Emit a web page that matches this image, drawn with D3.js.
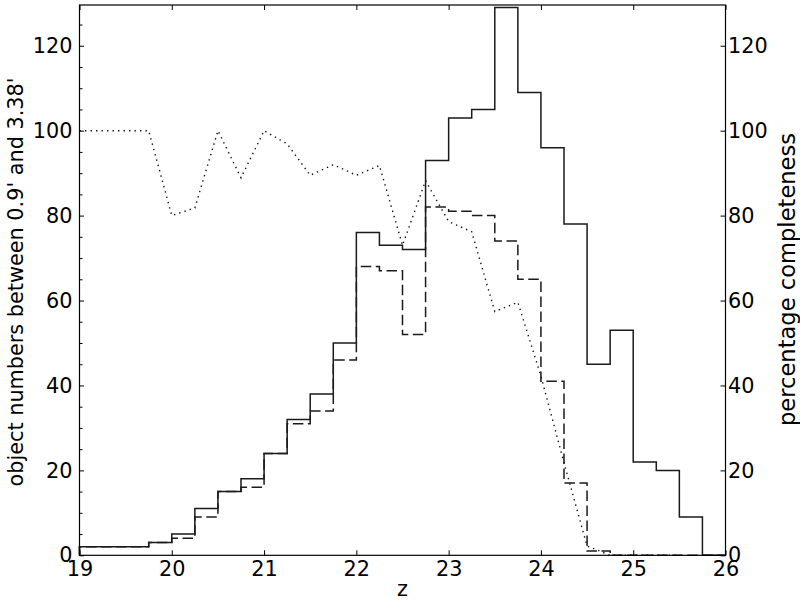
<!DOCTYPE html>
<html>
<head>
<meta charset="utf-8">
<script src="https://cdn.jsdelivr.net/npm/d3@7"></script>
<style>
  html, body { margin: 0; padding: 0; background: #fff; }
  svg { display: block; }
  text { font-family: "DejaVu Sans", sans-serif; fill: #000; }
</style>
</head>
<body>
<svg id="chart" width="800" height="600"></svg>
<script>
// bin left edges (width 0.25)
const binStarts = [19, 19.25, 19.5, 19.75, 20, 20.25, 20.5, 20.75, 21, 21.25, 21.5, 21.75,
  22, 22.25, 22.5, 22.75, 23, 23.25, 23.5, 23.75, 24, 24.25, 24.5, 24.75, 25, 25.25, 25.5, 25.75];
const binEnd = 26;
// all objects (solid)
const totalCounts = [2, 2, 2, 3, 5, 11, 15, 18, 24, 32, 38, 50,
  76, 73, 72, 93, 103, 105, 129, 109, 96, 78, 45, 53, 22, 20, 9, 0];
// recovered objects (dashed)
const recoveredCounts = [2, 2, 2, 3, 4, 9, 15, 16, 24, 31, 34, 46,
  68, 67, 52, 82, 81, 80, 74, 65, 41, 17, 1, 0, 0, 0, 0, 0];
// percentage completeness (dotted), plotted at bin left edges
const completenessZ = [19, 19.25, 19.5, 19.75, 20, 20.25, 20.5, 20.75, 21, 21.25, 21.5, 21.75,
  22, 22.25, 22.5, 22.75, 23, 23.25, 23.5, 23.75, 24, 24.25, 24.5, 24.75, 25, 25.25, 25.5];
const completeness = [100, 100, 100, 100, 80, 81.8, 100, 88.9, 100, 96.9, 89.5, 92,
  89.5, 91.8, 73, 88.2, 78.6, 76.2, 57.4, 59.6, 42.2, 21.8, 2.2, 0, 0, 0, 0];

const xTicks = [19, 20, 21, 22, 23, 24, 25, 26];
const yTicks = [0, 20, 40, 60, 80, 100, 120];
const yMinorTicks = [5, 10, 15, 25, 30, 35, 45, 50, 55, 65, 70, 75, 85, 90, 95, 105, 110, 115, 125];
const xDomain = [19, 26];
const yDomain = [0, 129.6];

const labels = {
  x: "z",
  yLeft: "object numbers between 0.9' and 3.38'",
  yRight: "percentage completeness"
};

const svg = d3.select("#chart");
const L = 79.5, R = 725.5, T = 5, B = 555.3;
const x = d3.scaleLinear().domain(xDomain).range([L, R]);
const y = d3.scaleLinear().domain(yDomain).range([B, T]);
const y2 = d3.scaleLinear().domain(yDomain).range([B, T]);

const FS = "20.8px";

function stepPoints(counts) {
  const pts = [[binStarts[0], 0]];
  counts.forEach((v, i) => {
    const x0 = binStarts[i];
    const x1 = i + 1 < binStarts.length ? binStarts[i + 1] : binEnd;
    pts.push([x0, v]);
    pts.push([x1, v]);
  });
  pts.push([binEnd, 0]);
  return pts;
}
const line = d3.line().x(d => x(d[0])).y(d => y(d[1]));

const plot = svg.append("g");
plot.append("path")
  .attr("d", line(stepPoints(totalCounts)))
  .attr("fill", "none").attr("stroke", "#1a1a1a").attr("stroke-width", 1.5);
plot.append("path")
  .attr("d", line(stepPoints(recoveredCounts)))
  .attr("fill", "none").attr("stroke", "#1a1a1a").attr("stroke-width", 1.5)
  .attr("stroke-dasharray", "10.5,4.5");
const line2 = d3.line().x(d => x(d[0])).y(d => y2(d[1]));
plot.append("path")
  .attr("d", line2(completenessZ.map((z, i) => [z, completeness[i]])))
  .attr("fill", "none").attr("stroke", "#111").attr("stroke-width", 1.4)
  .attr("stroke-dasharray", "1.4,4.1");

// axes
function styleAxis(g) {
  g.select(".domain").remove();
  g.selectAll(".tick line").attr("stroke", "#000").attr("stroke-width", 1);
  g.selectAll("text").style("font-size", FS).style("font-family", "DejaVu Sans, sans-serif").attr("fill", "#000");
}
svg.append("g").attr("transform", `translate(0,${B})`)
  .call(d3.axisBottom(x).tickValues(xTicks).tickFormat(d3.format("d")).tickSizeInner(-5).tickSizeOuter(0).tickPadding(6))
  .call(styleAxis);
svg.append("g").attr("transform", `translate(0,${T})`)
  .call(d3.axisTop(x).tickValues(xTicks).tickFormat("").tickSizeInner(-5).tickSizeOuter(0))
  .call(styleAxis);
svg.append("g").attr("transform", `translate(${L},0)`)
  .call(d3.axisLeft(y).tickValues(yTicks).tickFormat(d3.format("d")).tickSizeInner(-4.5).tickSizeOuter(0).tickPadding(7))
  .call(styleAxis);
svg.append("g").attr("transform", `translate(${L},0)`)
  .call(d3.axisLeft(y).tickValues(yMinorTicks).tickFormat("").tickSizeInner(-3).tickSizeOuter(0))
  .call(styleAxis);
svg.append("g").attr("transform", `translate(${R},0)`)
  .call(d3.axisRight(y2).tickValues(yTicks).tickFormat(d3.format("d")).tickSizeInner(-5).tickSizeOuter(0).tickPadding(2.5))
  .call(styleAxis);

// frame
svg.append("rect").attr("x", L).attr("y", T).attr("width", R - L).attr("height", B - T)
  .attr("fill", "none").attr("stroke", "#000").attr("stroke-width", 1.2);

// axis labels
svg.append("text").attr("x", (L + R) / 2).attr("y", 596).attr("text-anchor", "middle")
  .style("font-size", FS).text(labels.x);
svg.append("text").attr("transform", "translate(22.5,282) rotate(-90)").attr("text-anchor", "middle")
  .style("font-size", FS).text(labels.yLeft);
svg.append("text").attr("transform", "translate(795,279.5) rotate(-90)").attr("text-anchor", "middle")
  .style("font-size", "22.6px").text(labels.yRight);
</script>
</body>
</html>
